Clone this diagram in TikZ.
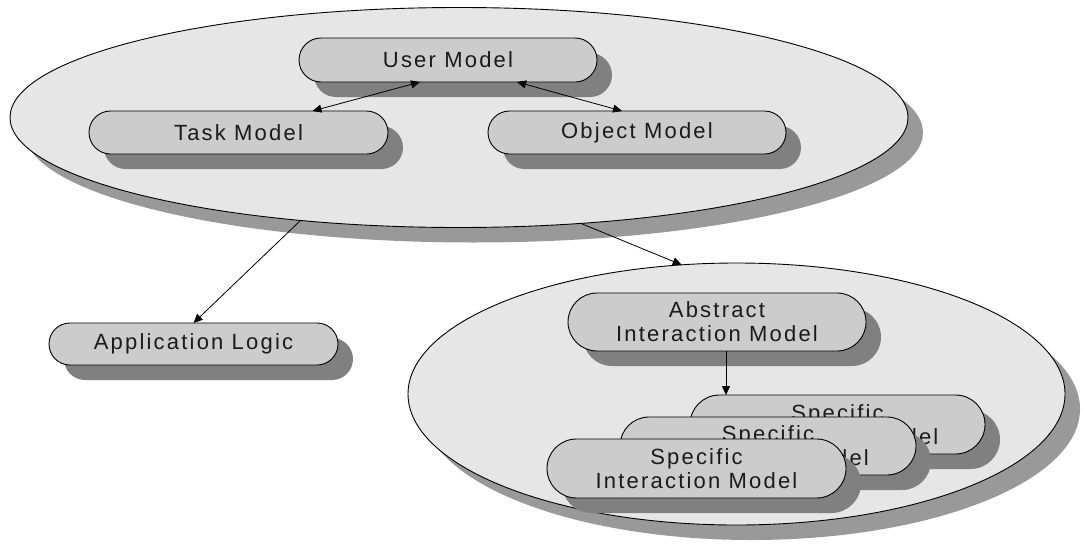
\documentclass[tikz,border=0pt]{standalone}
\usepackage{fontspec}
\setmainfont{Liberation Sans}[LetterSpace=10]
\usetikzlibrary{shapes.geometric,shapes.misc,shadows,arrows.meta}

\definecolor{pagebg}{HTML}{FFFFFF}
\definecolor{groupfill}{HTML}{E6E6E6}
\definecolor{groupshade}{HTML}{999999}
\definecolor{boxfill}{HTML}{CCCCCC}
\definecolor{boxshade}{HTML}{808080}
\definecolor{labelink}{HTML}{1A1A1A}

\begin{document}
\begin{tikzpicture}[x=1pt,y=-1pt,
  group/.style={ellipse, draw=black, line width=0.9pt, fill=groupfill,
    inner sep=0pt, outer sep=0pt,
    drop shadow={shadow xshift=15pt, shadow yshift=-15pt, fill=groupshade, opacity=1}},
  model/.style={rounded rectangle, draw=black, line width=0.9pt, fill=boxfill,
    inner sep=0pt, outer sep=0pt, align=center, text=labelink,
    font=\fontsize{22}{24}\selectfont,
    drop shadow={shadow xshift=15pt, shadow yshift=-15pt, fill=boxshade, opacity=1}},
  link/.style={line width=0.8pt, -{Triangle[length=9pt,width=8pt]}},
  twoway/.style={line width=0.8pt, {Triangle[length=9pt,width=8pt]}-{Triangle[length=9pt,width=8pt]}}
]
\useasboundingbox (0,0) rectangle (1083,549);
\fill[pagebg] (0,0) rectangle (1083,549);

% user-side models
\node[group, minimum width=898pt, minimum height=220pt] (users) at (459,117.5) {};
\node[model, minimum width=298pt, minimum height=44pt] (um) at (448,60) {User Model};
\node[model, minimum width=299pt, minimum height=43pt] (tm) at (238.5,132.5) {Task Model};
\node[model, minimum width=298pt, minimum height=43pt] (om) at (637,132.5) {Object Model};

\draw[twoway] ([xshift=-28pt]um.south) -- ([xshift=74pt]tm.north);
\draw[twoway] ([xshift=69pt]um.south) -- ([xshift=-15pt]om.north);

% application side
\node[model, minimum width=289pt, minimum height=42pt] (al) at (193.5,344) {Application Logic};

% interaction models
\node[group, minimum width=657pt, minimum height=262pt] (inter) at (736.5,394) {};
\node[model, minimum width=298pt, minimum height=58pt] (aim) at (717,322) {Abstract\\Interaction Model};
\node[model, minimum width=295pt, minimum height=59pt] (sim3) at (837.5,424.5) {Specific\\Interaction Model};
\node[model, minimum width=296pt, minimum height=58pt] (sim2) at (768,446) {Specific\\Interaction Model};
\node[model, minimum width=299pt, minimum height=59pt] (sim1) at (696.5,468.5) {Specific\\Interaction Model};

\draw[link] ([xshift=9pt]aim.south) -- ([xshift=9pt]aim.south |- sim3.north);

% connections between groups
\draw[link] (users.213.6) -- (al.north);
\draw[link] (users.-41.3) -- (inter.113.5);
\end{tikzpicture}
\end{document}
